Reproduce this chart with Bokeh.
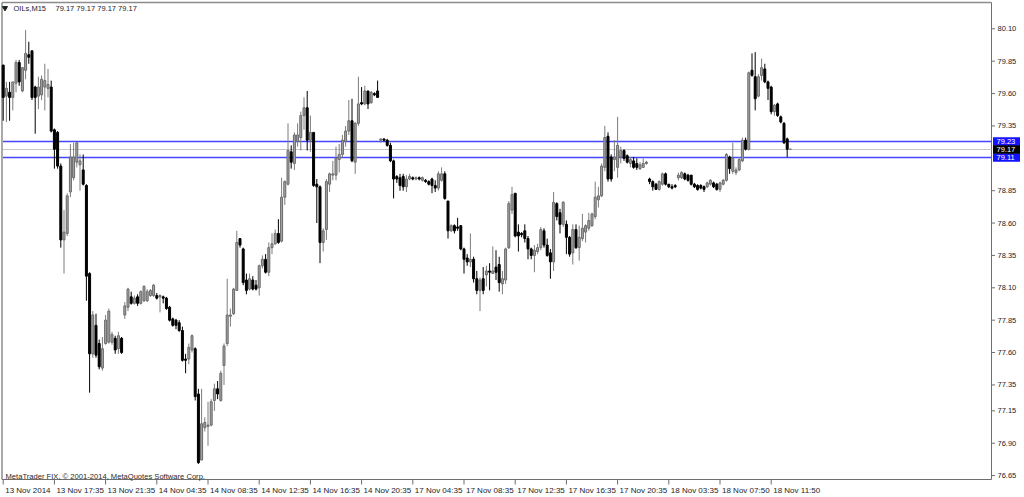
import numpy as np
from bokeh.plotting import figure
from bokeh.models import Range1d
from bokeh.core.properties import value
from bokeh.embed import file_html
from bokeh.resources import INLINE

# ---------------- data (OILs, M15) ----------------
open_ = [
    79.82, 79.58, 79.61, 79.57, 79.68, 79.84, 79.62, 79.78, 79.90, 79.93,
    79.65, 79.58, 79.59, 79.65, 79.64, 79.65, 79.32, 79.30, 79.04, 78.47,
    78.52, 78.84, 78.95, 79.07, 79.05, 79.01, 78.89, 78.21, 77.59, 77.81,
    77.67, 77.48, 77.67, 77.68, 77.68, 77.71, 77.63, 77.71,
    77.89, 77.95, 78.03, 77.98, 78.03, 77.98, 78.00, 78.00, 78.04, 78.04,
    78.04, 78.03, 78.03, 78.02, 77.95, 77.86, 77.85, 77.83, 77.77, 77.55,
    77.55, 77.62, 77.63,
    77.28, 76.77, 77.02, 77.03, 77.04, 77.23, 77.32, 77.23, 77.50, 77.67,
    77.88, 77.90, 78.08, 78.48, 78.40, 78.16, 78.09, 78.16, 78.12, 78.10,
    78.27, 78.32, 78.22, 78.41, 78.44, 78.52, 78.46, 78.80, 78.90, 79.15,
    79.06, 79.23, 79.26, 79.43, 79.49, 79.24, 79.30, 78.90, 78.88, 78.45,
    78.55, 78.90, 78.97, 78.97, 79.09, 79.13, 79.23, 79.31, 79.39, 79.07,
    79.37, 79.53, 79.52, 79.62, 79.53, 79.60, 79.62,
    79.24, 79.25, 79.24, 79.20, 79.08, 78.96, 78.95, 78.96, 78.88, 78.94,
    78.95, 78.94, 78.95, 78.93, 78.93, 78.92, 78.94, 78.89, 78.87, 78.93,
    78.98, 78.77, 78.54, 78.58, 78.57, 78.58, 78.40, 78.33, 78.30, 78.32,
    78.17, 78.08, 78.17, 78.20, 78.23, 78.21, 78.26, 78.28, 78.13, 78.16,
    78.41, 78.70, 78.83, 78.53, 78.52, 78.54, 78.48, 78.40, 78.35, 78.38,
    78.41, 78.54, 78.43, 78.37, 78.30, 78.75, 78.68, 78.59, 78.59, 78.49,
    78.37, 78.55, 78.41, 78.48, 78.53, 78.56, 78.58, 78.65, 78.78, 78.81,
    79.03, 79.27, 79.11, 79.09, 79.03, 79.11, 79.16, 79.12, 79.06, 79.08,
    79.06, 79.02, 79.03, 79.06,
    78.94, 78.92, 78.90, 78.86, 78.90, 78.98, 78.90, 78.88, 78.89, 78.95,
    78.95, 78.98, 78.97, 78.97, 78.90, 78.89, 78.89, 78.88, 78.88, 78.90,
    78.91, 78.90, 78.86, 78.90, 78.93, 79.11, 79.00, 78.99, 79.01, 79.08,
    79.24, 79.17, 79.78, 79.73, 79.58, 79.74, 79.79, 79.69, 79.65, 79.46,
    79.52, 79.42, 79.37, 79.25, 79.17,
]
high = [
    79.82, 79.69, 79.69, 79.69, 79.86, 79.86, 79.80, 80.09, 80.00, 79.93,
    79.66, 79.73, 79.74, 79.83, 79.79, 79.70, 79.33, 79.31, 79.06, 78.70,
    78.83, 79.21, 79.22, 79.22, 79.13, 79.13, 78.90, 78.22, 77.92, 77.90,
    77.70, 77.72, 77.89, 77.94, 77.76, 77.73, 77.76, 77.72,
    77.99, 78.10, 78.07, 78.04, 78.05, 78.08, 78.12, 78.09, 78.09, 78.13,
    78.06, 78.05, 78.04, 78.03, 77.96, 77.87, 77.86, 77.85, 77.80, 77.59,
    77.67, 77.74, 77.64,
    77.32, 77.32, 77.10, 77.22, 77.24, 77.36, 77.38, 77.46, 77.67, 78.17,
    77.94, 78.10, 78.54, 78.48, 78.41, 78.21, 78.21, 78.19, 78.16, 78.28,
    78.35, 78.36, 78.45, 78.52, 78.55, 78.63, 78.95, 78.93, 79.37, 79.20,
    79.30, 79.37, 79.46, 79.57, 79.62, 79.43, 79.30, 78.94, 78.89, 78.56,
    78.94, 78.99, 79.08, 79.19, 79.21, 79.28, 79.35, 79.55, 79.56, 79.38,
    79.73, 79.65, 79.66, 79.62, 79.62, 79.61, 79.70,
    79.25, 79.25, 79.25, 79.22, 79.09, 78.97, 78.98, 78.98, 78.97, 78.98,
    78.96, 78.96, 78.96, 78.96, 78.94, 78.93, 78.95, 78.93, 79.00, 79.03,
    79.00, 78.77, 78.59, 78.59, 78.64, 78.58, 78.41, 78.36, 78.52, 78.34,
    78.23, 78.18, 78.26, 78.27, 78.29, 78.42, 78.39, 78.34, 78.23, 78.41,
    78.77, 78.88, 78.83, 78.59, 78.53, 78.59, 78.50, 78.41, 78.43, 78.44,
    78.57, 78.56, 78.48, 78.40, 78.84, 78.76, 78.71, 78.77, 78.62, 78.50,
    78.59, 78.59, 78.58, 78.67, 78.59, 78.68, 78.68, 78.92, 78.88, 79.06,
    79.35, 79.30, 79.13, 79.24, 79.42, 79.19, 79.17, 79.13, 79.11, 79.11,
    79.10, 79.07, 79.10, 79.08,
    78.95, 78.93, 78.91, 78.93, 78.99, 78.99, 78.90, 78.90, 78.90, 78.99,
    79.00, 78.99, 78.98, 78.97, 78.91, 78.90, 78.90, 78.89, 78.92, 78.94,
    78.92, 78.91, 78.92, 78.94, 79.14, 79.12, 79.22, 79.03, 79.11, 79.26,
    79.26, 79.77, 79.91, 79.92, 79.75, 79.87, 79.83, 79.70, 79.66, 79.52,
    79.53, 79.43, 79.38, 79.26, 79.17,
]
low = [
    79.39, 79.38, 79.39, 79.47, 79.61, 79.66, 79.61, 79.71, 79.83, 79.55,
    79.29, 79.48, 79.55, 79.47, 79.57, 79.30, 79.02, 79.02, 78.41, 78.21,
    78.50, 78.80, 78.93, 79.03, 78.85, 78.89, 78.00, 77.29, 77.56, 77.56,
    77.47, 77.46, 77.66, 77.67, 77.66, 77.59, 77.59, 77.59,
    77.86, 77.92, 77.97, 77.97, 77.96, 77.97, 77.99, 77.99, 78.03, 78.03,
    78.01, 77.91, 77.98, 77.93, 77.84, 77.80, 77.78, 77.76, 77.53, 77.44,
    77.51, 77.60, 77.23,
    76.74, 76.77, 76.99, 76.88, 77.03, 77.15, 77.24, 77.22, 77.35, 77.65,
    77.80, 77.89, 78.08, 78.41, 78.12, 78.05, 78.08, 78.08, 78.08, 78.04,
    78.25, 78.21, 78.19, 78.36, 78.43, 78.44, 78.45, 78.74, 78.89, 79.02,
    79.01, 79.19, 79.16, 79.32, 79.16, 79.15, 78.88, 78.60, 78.29, 78.38,
    78.47, 78.84, 78.93, 78.93, 78.99, 79.11, 79.19, 79.28, 79.07, 78.98,
    79.35, 79.51, 79.51, 79.48, 79.52, 79.58, 79.57,
    79.22, 79.23, 79.19, 79.07, 78.79, 78.91, 78.85, 78.85, 78.84, 78.93,
    78.93, 78.93, 78.93, 78.92, 78.91, 78.89, 78.83, 78.84, 78.85, 78.92,
    78.78, 78.48, 78.53, 78.52, 78.54, 78.39, 78.21, 78.27, 78.26, 78.14,
    78.05, 77.92, 78.05, 78.11, 78.08, 78.21, 78.16, 78.07, 78.05, 78.13,
    78.40, 78.67, 78.49, 78.38, 78.49, 78.45, 78.32, 78.32, 78.22, 78.36,
    78.39, 78.41, 78.34, 78.17, 78.23, 78.62, 78.52, 78.57, 78.36, 78.34,
    78.28, 78.40, 78.31, 78.46, 78.45, 78.54, 78.57, 78.63, 78.72, 78.80,
    79.00, 78.92, 78.92, 79.00, 78.95, 79.06, 79.08, 79.06, 79.03, 79.02,
    79.01, 79.01, 79.03, 79.05,
    78.90, 78.85, 78.86, 78.85, 78.89, 78.89, 78.87, 78.86, 78.87, 78.93,
    78.94, 78.93, 78.92, 78.89, 78.87, 78.85, 78.86, 78.84, 78.87, 78.89,
    78.87, 78.85, 78.84, 78.89, 78.92, 78.98, 78.98, 78.97, 79.00, 79.07,
    79.16, 79.16, 79.73, 79.47, 79.57, 79.70, 79.68, 79.55, 79.44, 79.43,
    79.42, 79.37, 79.21, 79.11, 79.17,
]
close = [
    79.57, 79.64, 79.57, 79.69, 79.84, 79.69, 79.80, 79.91, 79.88, 79.57,
    79.57, 79.65, 79.71, 79.70, 79.67, 79.31, 79.17, 79.04, 78.47, 78.53,
    78.81, 79.11, 79.11, 79.22, 79.08, 78.90, 78.19, 77.59, 77.89, 77.58,
    77.49, 77.63, 77.85, 77.92, 77.74, 77.62, 77.73, 77.60,
    77.96, 78.09, 77.98, 78.02, 77.98, 78.07, 78.11, 78.07, 78.08, 78.12,
    78.02, 78.04, 78.02, 77.94, 77.85, 77.81, 77.81, 77.77, 77.54, 77.54,
    77.64, 77.73, 77.26,
    76.75, 77.05, 77.06, 77.04, 77.22, 77.32, 77.28, 77.44, 77.65, 77.89,
    77.89, 78.09, 78.45, 78.43, 78.14, 78.08, 78.17, 78.09, 78.09, 78.27,
    78.32, 78.22, 78.41, 78.44, 78.52, 78.45, 78.80, 78.92, 79.16, 79.07,
    79.28, 79.28, 79.43, 79.49, 79.24, 79.30, 78.89, 78.88, 78.45, 78.54,
    78.92, 78.98, 78.98, 79.10, 79.13, 79.24, 79.31, 79.39, 79.08, 79.37,
    79.52, 79.52, 79.62, 79.52, 79.61, 79.59, 79.57,
    79.25, 79.24, 79.20, 79.08, 78.94, 78.94, 78.89, 78.88, 78.94, 78.96,
    78.94, 78.95, 78.94, 78.95, 78.92, 78.90, 78.89, 78.87, 78.98, 78.98,
    78.79, 78.54, 78.58, 78.54, 78.56, 78.40, 78.32, 78.30, 78.32, 78.17,
    78.08, 78.16, 78.08, 78.23, 78.22, 78.23, 78.22, 78.14, 78.17, 78.40,
    78.75, 78.82, 78.50, 78.50, 78.51, 78.48, 78.40, 78.35, 78.39, 78.41,
    78.55, 78.43, 78.35, 78.30, 78.76, 78.65, 78.59, 78.76, 78.49, 78.36,
    78.55, 78.41, 78.49, 78.56, 78.58, 78.62, 78.67, 78.80, 78.81, 79.04,
    79.26, 78.94, 78.94, 79.11, 79.20, 79.16, 79.10, 79.07, 79.09, 79.03,
    79.03, 79.05, 79.06, 79.07,
    78.92, 78.88, 78.86, 78.92, 78.98, 78.90, 78.88, 78.87, 78.88, 78.97,
    78.99, 78.94, 78.93, 78.90, 78.88, 78.86, 78.87, 78.86, 78.91, 78.93,
    78.88, 78.86, 78.91, 78.93, 79.13, 79.02, 79.10, 79.01, 79.09, 79.24,
    79.17, 79.76, 79.74, 79.56, 79.73, 79.80, 79.69, 79.64, 79.46, 79.51,
    79.43, 79.38, 79.22, 79.17, 79.17,
]

time_labels = ["13 Nov 2014", "13 Nov 17:35", "13 Nov 21:35", "14 Nov 04:35",
               "14 Nov 08:35", "14 Nov 12:35", "14 Nov 16:35", "14 Nov 20:35",
               "17 Nov 04:35", "17 Nov 08:35", "17 Nov 12:35", "17 Nov 16:35",
               "17 Nov 20:35", "18 Nov 03:35", "18 Nov 07:50", "18 Nov 11:50"]
time_label_bars = [0, 16, 32, 48, 64, 80, 96, 112, 128, 144, 160, 176, 192, 208, 224, 240]
price_ticks = [80.10, 79.85, 79.60, 79.35, 78.85, 78.60, 78.35, 78.10,
               77.85, 77.60, 77.35, 77.15, 76.90, 76.65]
level_upper = 79.23
level_bid = 79.17
level_lower = 79.11
symbol = "OILs,M15"
copyright_text = "MetaTrader FIX, \u00a9 2001-2014, MetaQuotes Software Corp."

# ---------------- scales (MetaTrader layout) ----------------
W, H = 1024, 497
BAR_PX = 3.2          # pixels per bar
X0_PX = 2.7           # pixel of bar 0
P_REF, PY_REF, PX_PER_UNIT = 80.10, 28.3, 129.5

def xd(px):
    return (px - X0_PX) / BAR_PX

def yd(py):
    return P_REF - (py - PY_REF) / PX_PER_UNIT

def dy(npx):
    return npx / PX_PER_UNIT

def snap(level):
    # keep a horizontal line centred on a single pixel row
    py = PY_REF + (P_REF - level) * PX_PER_UNIT
    return yd(int(py + 0.5))

FONT = value("Liberation Sans")
TXT = "#1c1c2a"
AX = "#6e6e6e"
L_PX, T_PX, R_PX, B_PX = 1.5, 2.0, 991.0, 479.0

o = np.array(open_); h = np.array(high); l = np.array(low); c = np.array(close)
n = len(o)
idx = np.arange(n)
bull = c >= o
bear = ~bull

p = figure(width=W, height=H, output_backend="svg", toolbar_location=None,
           x_range=Range1d(xd(0), xd(W)), y_range=Range1d(yd(H), yd(0)),
           x_axis_location=None, y_axis_location=None, min_border=0,
           background_fill_color="white", border_fill_color="white",
           outline_line_color=None)
p.xgrid.visible = False
p.ygrid.visible = False

# chart frame
p.segment(x0=[xd(L_PX), xd(L_PX)], y0=[yd(T_PX), yd(T_PX)],
          x1=[xd(L_PX), xd(R_PX)], y1=[yd(B_PX), yd(T_PX)],
          line_color="#8c8c8c", line_width=1.5)
p.segment(x0=[xd(R_PX), xd(L_PX)], y0=[yd(T_PX), yd(B_PX)],
          x1=[xd(R_PX), xd(R_PX)], y1=[yd(B_PX), yd(B_PX)],
          line_color=AX, line_width=1)

# level lines
lv_x0, lv_x1 = xd(L_PX + 1), xd(R_PX)
p.segment(x0=[lv_x0], y0=[snap(level_bid)], x1=[lv_x1], y1=[snap(level_bid)],
          line_color="#c6c6c6", line_width=1)
p.segment(x0=[lv_x0, lv_x0], y0=[snap(level_upper), snap(level_lower)],
          x1=[lv_x1, lv_x1], y1=[snap(level_upper), snap(level_lower)],
          line_color="#4646ff", line_width=1.5)

# candles
bw = 0.62
p.segment(x0=idx[bull], y0=l[bull], x1=idx[bull], y1=h[bull], line_color="#7c7c7c", line_width=1)
p.segment(x0=idx[bear], y0=l[bear], x1=idx[bear], y1=h[bear], line_color="black", line_width=1)
p.vbar(x=idx[bull], width=bw, top=c[bull], bottom=o[bull],
       fill_color="#a4a4a4", line_color="#6a6a6a", line_width=1)
p.vbar(x=idx[bear], width=bw, top=o[bear], bottom=c[bear],
       fill_color="black", line_color="black", line_width=1)

# price scale (right)
pt = np.array(price_ticks)
p.segment(x0=[xd(R_PX)] * len(pt), y0=pt, x1=[xd(R_PX + 3.5)] * len(pt), y1=pt,
          line_color=AX, line_width=1)
p.text(x=[xd(997)] * len(pt), y=pt, text=[f"{t:.2f}" for t in pt],
       text_font=FONT, text_font_size=value("7.5px"), text_color=TXT,
       text_align="left", text_baseline="middle")

# time scale (bottom)
tb = np.array(time_label_bars, dtype=float)
p.segment(x0=tb, y0=[yd(B_PX)] * len(tb), x1=tb, y1=[yd(B_PX + 5)] * len(tb),
          line_color=AX, line_width=1)
p.text(x=tb + 2 / BAR_PX, y=[yd(489.5)] * len(tb), text=time_labels,
       text_font=FONT, text_font_size=value("8px"), text_color=TXT,
       text_align="left", text_baseline="middle")

# price tags on the scale
def tag(level, bg):
    yc = snap(level)
    p.quad(left=[xd(992.5)], right=[xd(1019.5)], top=[yc + dy(4.2)], bottom=[yc - dy(4.2)],
           fill_color=bg, line_color=None)
    p.text(x=[xd(996)], y=[yc], text=[f"{level:.2f}"], text_font=FONT,
           text_font_size=value("7.5px"), text_color="white",
           text_align="left", text_baseline="middle")

tag(level_upper, "#1212ff")
tag(level_lower, "#1212ff")
tag(level_bid, "black")

# header and copyright
p.scatter(x=[xd(4.5)], y=[yd(7.5)], marker="inverted_triangle", size=5,
          fill_color="#202020", line_color="#202020")
ohlc_txt = " ".join(f"{v:.2f}" for v in (o[-1], h[-1], l[-1], c[-1]))
p.text(x=[xd(13), xd(55)], y=[yd(8.3), yd(8.3)], text=[symbol, ohlc_txt],
       text_font=FONT, text_font_size=value("7.5px"), text_color=TXT,
       text_align="left", text_baseline="middle")
p.text(x=[xd(5)], y=[yd(475.5)], text=[copyright_text],
       text_font=FONT, text_font_size=value("7.6px"), text_color="#2a2a2a",
       text_align="left", text_baseline="middle")

open("out.html", "w").write(file_html(p, INLINE))
